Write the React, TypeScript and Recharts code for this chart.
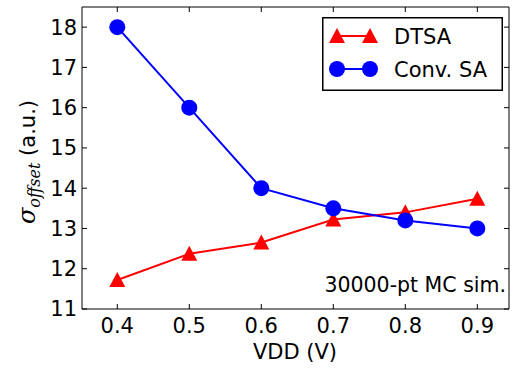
import React from 'react';
import { LineChart, Line, XAxis, YAxis, Legend, Customized } from 'recharts';

const vdd = [0.4, 0.5, 0.6, 0.7, 0.8, 0.9];
const dtsa = [11.72, 12.37, 12.65, 13.22, 13.4, 13.74];
const convSa = [18, 16, 14, 13.5, 13.2, 13.0];
const xTicks = [0.4, 0.5, 0.6, 0.7, 0.8, 0.9];
const yTicks = [11, 12, 13, 14, 15, 16, 17, 18];
const seriesNames = ['DTSA', 'Conv. SA'];
const noteText = '30000-pt MC sim.';
const xLabel = 'VDD (V)';

const data = vdd.map((v, i) => ({ vdd: v, dtsa: dtsa[i], conv: convSa[i] }));

const FONT = 'DejaVu Sans';
const RED = '#ff0000';
const BLUE = '#0000ff';

const Triangle = (props: any) => {
  const { cx, cy, fill } = props;
  if (cx == null || cy == null) return null;
  const h = 8;
  return <path d={`M${cx},${cy - h} L${cx + h},${cy + h - 1} L${cx - h},${cy + h - 1} Z`} fill={fill || RED} />;
};

const Circle = (props: any) => {
  const { cx, cy } = props;
  if (cx == null || cy == null) return null;
  return <circle cx={cx} cy={cy} r={8} fill={BLUE} />;
};

const LegendBox = () => (
  <svg width={182} height={75} style={{ display: 'block' }}>
    <rect x={0.75} y={0.75} width={179.5} height={72.5} fill="#fff" stroke="#000" strokeWidth={1.5} />
    <line x1={15} y1={19} x2={48} y2={19} stroke={RED} strokeWidth={2} />
    <Triangle cx={15} cy={19} fill={RED} />
    <Triangle cx={48} cy={19} fill={RED} />
    <text x={72} y={19} dy="0.36em" fontFamily={FONT} fontSize={21} fill="#000">{seriesNames[0]}</text>
    <line x1={15} y1={52} x2={48} y2={52} stroke={BLUE} strokeWidth={2} />
    <circle cx={15} cy={52} r={8} fill={BLUE} />
    <circle cx={48} cy={52} r={8} fill={BLUE} />
    <text x={72} y={52} dy="0.36em" fontFamily={FONT} fontSize={21} fill="#000">{seriesNames[1]}</text>
  </svg>
);

const Extras = () => (
  <g>
    <text x={506} y={292} textAnchor="end" fontFamily={FONT} fontSize={20.5} fill="#000">{noteText}</text>
    <text x={295} y={359} textAnchor="middle" fontFamily={FONT} fontSize={21} fill="#000">{xLabel}</text>
    <text transform="translate(35,162) rotate(-90)" textAnchor="middle" fontSize={21} fill="#000">
      <tspan fontFamily="DejaVu Serif" fontStyle="italic" fontSize={24}>σ</tspan>
      <tspan fontFamily="DejaVu Serif" fontStyle="italic" fontSize={16} dy={5}>offset</tspan>
      <tspan fontFamily={FONT} dy={-5}> (a.u.)</tspan>
    </text>
  </g>
);

const empty = () => <g />;
const tickStyle = { fontSize: 21, fill: '#000', fontFamily: FONT };

export default function App() {
  return (
    <div style={{ position: 'absolute', left: 0, top: 0, width: 513, height: 370, background: '#fff' }}>
      <LineChart width={513} height={370} data={data} margin={{ top: 0, right: 0, bottom: 0, left: 0 }}>
        <XAxis
          xAxisId="b"
          dataKey="vdd"
          type="number"
          domain={[0.351, 0.944]}
          allowDataOverflow
          ticks={xTicks}
          tickFormatter={(v: number) => v.toFixed(1)}
          orientation="bottom"
          height={61}
          tickSize={-5}
          tickMargin={14}
          stroke="#000"
          axisLine={{ stroke: '#000', strokeWidth: 1 }}
          tickLine={{ stroke: '#000' }}
          tick={tickStyle}
        />
        <XAxis
          xAxisId="t"
          dataKey="vdd"
          type="number"
          domain={[0.351, 0.944]}
          allowDataOverflow
          ticks={xTicks}
          orientation="top"
          height={7}
          tickSize={-5}
          axisLine={{ stroke: '#000', strokeWidth: 1 }}
          tickLine={{ stroke: '#000' }}
          tick={empty}
        />
        <YAxis
          yAxisId="l"
          type="number"
          domain={[11, 18.5]}
          allowDataOverflow
          ticks={yTicks}
          orientation="left"
          width={82}
          tickSize={-5}
          tickMargin={10}
          axisLine={{ stroke: '#000', strokeWidth: 1 }}
          tickLine={{ stroke: '#000' }}
          tick={tickStyle}
        />
        <YAxis
          yAxisId="r"
          type="number"
          domain={[11, 18.5]}
          allowDataOverflow
          ticks={yTicks}
          orientation="right"
          width={4}
          tickSize={-5}
          axisLine={{ stroke: '#000', strokeWidth: 1 }}
          tickLine={{ stroke: '#000' }}
          tick={empty}
        />
        <Line
          xAxisId="b"
          yAxisId="l"
          dataKey="dtsa"
          name={seriesNames[0]}
          stroke={RED}
          strokeWidth={2}
          dot={<Triangle fill={RED} />}
          activeDot={false}
          isAnimationActive={false}
        />
        <Line
          xAxisId="b"
          yAxisId="l"
          dataKey="conv"
          name={seriesNames[1]}
          stroke={BLUE}
          strokeWidth={2}
          dot={<Circle />}
          activeDot={false}
          isAnimationActive={false}
        />
        <Legend
          layout="vertical"
          align="center"
          verticalAlign="middle"
          content={() => <LegendBox />}
          wrapperStyle={{ position: 'absolute', left: 322, top: 17, width: 182, height: 75 }}
        />
        <Customized component={Extras} />
      </LineChart>
    </div>
  );
}
